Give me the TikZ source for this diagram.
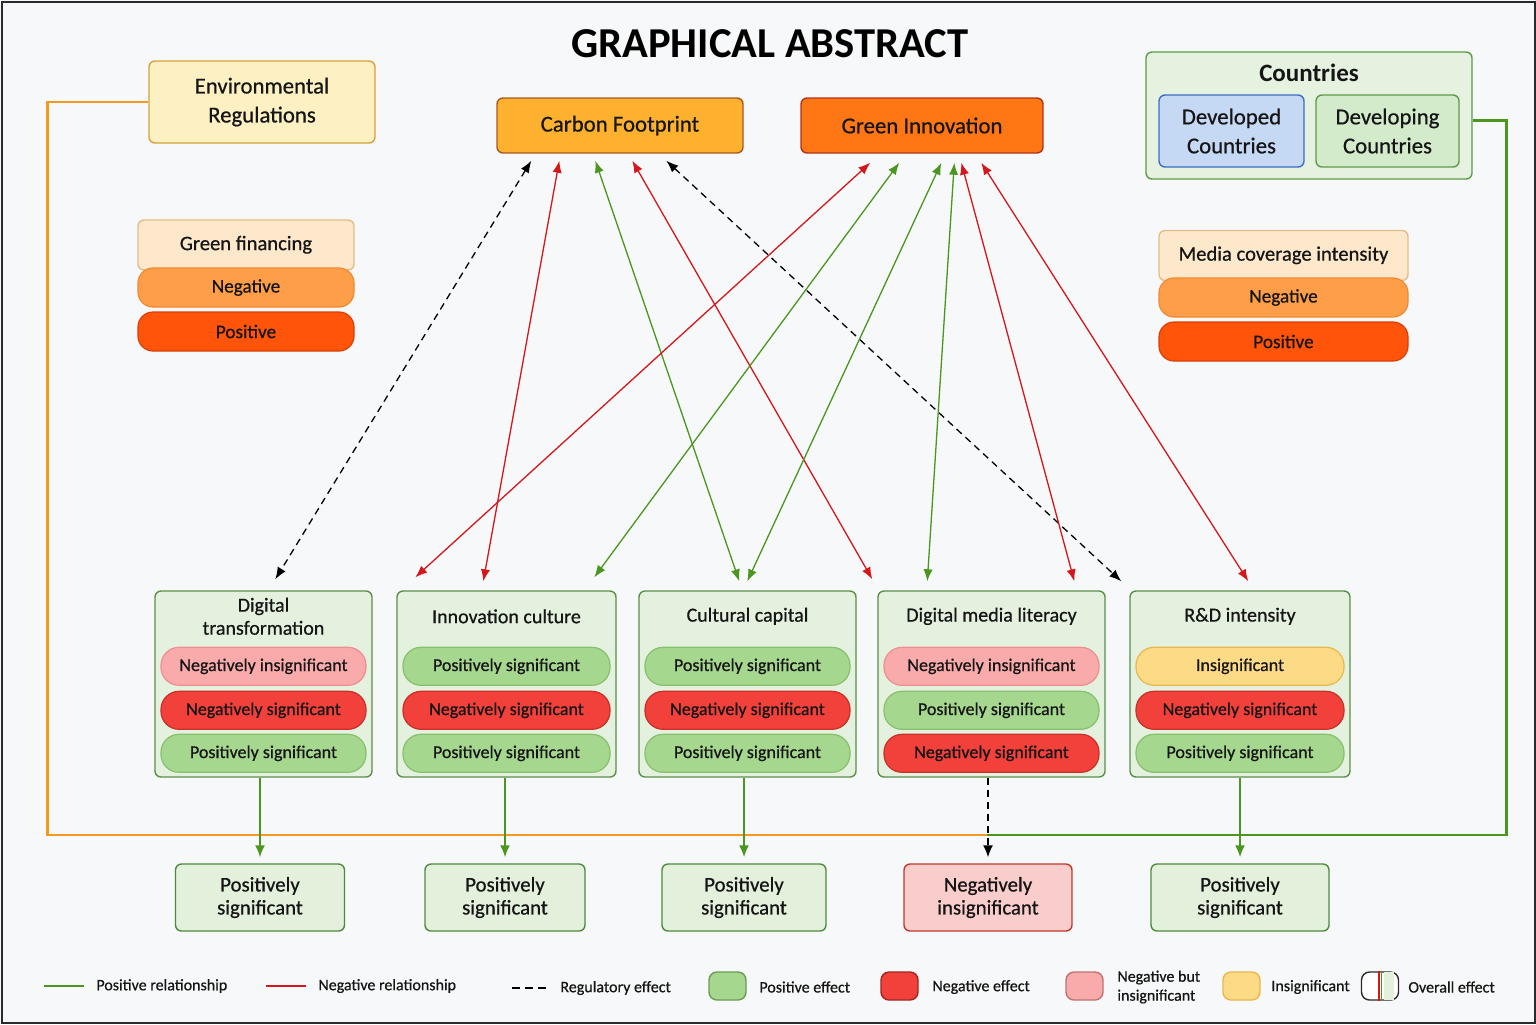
\documentclass[tikz,border=0pt]{standalone}
\usepackage{fontspec}
\setmainfont{Carlito}
\newfontfamily\gafont{Carlito}[FakeBold=0.6]
\usetikzlibrary{arrows.meta, backgrounds, calc, positioning}
\definecolor{gaink}{HTML}{151515}
\definecolor{gapaper}{HTML}{F7F8F9}
\definecolor{gaframe}{HTML}{2A2A2A}
\definecolor{gagreen}{HTML}{4A961E}
\definecolor{gared}{HTML}{D3171B}
\definecolor{gaorange}{HTML}{F39A1E}
\definecolor{regfill}{HTML}{FDF1C4}
\definecolor{regdraw}{HTML}{D9A23A}
\definecolor{cffill}{HTML}{FDB12F}
\definecolor{cfdraw}{HTML}{A85A1E}
\definecolor{gifill}{HTML}{FF7614}
\definecolor{gidraw}{HTML}{B5321A}
\definecolor{ctryfill}{HTML}{E6F2E0}
\definecolor{ctrydraw}{HTML}{5C9A48}
\definecolor{devfill}{HTML}{C5D8F4}
\definecolor{devdraw}{HTML}{3B6FC4}
\definecolor{dvgfill}{HTML}{D4EBCB}
\definecolor{modfill}{HTML}{FDE8CB}
\definecolor{moddraw}{HTML}{E2BE86}
\definecolor{modneg}{HTML}{FF9E48}
\definecolor{modnegdraw}{HTML}{F08A30}
\definecolor{modpos}{HTML}{FF5409}
\definecolor{modposdraw}{HTML}{D84008}
\definecolor{factfill}{HTML}{E4F1DF}
\definecolor{factdraw}{HTML}{5A8F48}
\definecolor{pillgreen}{HTML}{A6D78E}
\definecolor{pillgreendraw}{HTML}{86C06C}
\definecolor{pillred}{HTML}{F2403A}
\definecolor{pillreddraw}{HTML}{C8302A}
\definecolor{pillpink}{HTML}{F9AAAA}
\definecolor{pillpinkdraw}{HTML}{EE8E8E}
\definecolor{pillyellow}{HTML}{FDDA86}
\definecolor{pillyellowdraw}{HTML}{E9B84C}
\definecolor{resfill}{HTML}{E3F0DC}
\definecolor{resdraw}{HTML}{4E8A3E}
\definecolor{resnegfill}{HTML}{F9CDCB}
\definecolor{resnegdraw}{HTML}{C0392B}
\tikzset{
  gabox/.style={
    rounded corners=3pt,
    line width=0.7pt,
    align=center,
    inner sep=2pt,
    text=gaink,
    font=\gafont\fontsize{11.4}{14.5}\selectfont
  },
  outcomebox/.style={gabox, minimum height=27.5pt},
  factorbox/.style={gabox, draw=factdraw, fill=factfill,
    minimum height=93pt},
  factortitle/.style={align=center, text=gaink,
    font=\gafont\fontsize{10}{11.5}\selectfont},
  pill/.style={rounded corners=9pt, line width=0.6pt, minimum height=19pt,
    inner sep=1pt, text=gaink, font=\gafont\fontsize{9}{10}\selectfont},
  pillpos/.style={pill, draw=pillgreendraw, fill=pillgreen},
  pillneg/.style={pill, draw=pillreddraw, fill=pillred},
  pillnegins/.style={pill, draw=pillpinkdraw, fill=pillpink},
  pillins/.style={pill, draw=pillyellowdraw, fill=pillyellow},
  modhead/.style={gabox, draw=moddraw, fill=modfill, minimum height=25pt,
    font=\gafont\fontsize{10.3}{11}\selectfont},
  modneg/.style={pill, rounded corners=7.5pt, draw=modnegdraw, fill=modneg,
    minimum height=19.5pt, font=\gafont\fontsize{9.6}{10}\selectfont},
  modpos/.style={modneg, draw=modposdraw, fill=modpos},
  resultbox/.style={gabox, minimum height=33.5pt,
    font=\gafont\fontsize{10.4}{11.5}\selectfont},
  respos/.style={resultbox, draw=resdraw, fill=resfill},
  resneg/.style={resultbox, draw=resnegdraw, fill=resnegfill},
  posarrow/.style={{Latex[length=6pt,width=4.6pt]}-{Latex[length=6pt,width=4.6pt]},
    line width=0.65pt, draw=gagreen},
  negarrow/.style={{Latex[length=6pt,width=4.6pt]}-{Latex[length=6pt,width=4.6pt]},
    line width=0.65pt, draw=gared},
  regarrow/.style={{Latex[length=6pt,width=4.6pt]}-{Latex[length=6pt,width=4.6pt]},
    line width=0.65pt, draw=black, dash pattern=on 3.5pt off 2.5pt},
  downarrow/.style={-{Latex[length=6pt,width=5pt]}, line width=1pt,
    draw=gagreen, shorten >=3pt},
  routeline/.style={line width=1.4pt},
  legendtext/.style={anchor=west, align=left, text=gaink, inner sep=0pt,
    font=\gafont\fontsize{8}{9.5}\selectfont},
  swatch/.style={rounded corners=4pt, line width=0.7pt,
    minimum width=18.5pt, minimum height=14pt, inner sep=0pt}
}
\begin{document}
\begin{tikzpicture}[x=0.5pt,y=-0.5pt]
\useasboundingbox (0,0) rectangle (1536,1024);
\fill[gapaper] (0,0) rectangle (1536,1024);
\draw[gaframe, line width=1pt] (1.5,1.5) rectangle (1534.5,1022.5);

\node[text=black, font=\fontsize{21.3}{24}\selectfont\bfseries] (title)
  at (770,44) {GRAPHICAL ABSTRACT};

% top row
\node[gabox, draw=regdraw, fill=regfill, minimum width=113pt,
  minimum height=41pt] (envreg) at (262,102) {Environmental\\Regulations};
\node[outcomebox, draw=cfdraw, fill=cffill, minimum width=123pt]
  (carbon) at (620,125.5) {Carbon Footprint};
\node[outcomebox, draw=gidraw, fill=gifill, minimum width=121pt]
  (greeninno) at (922,125.5) {Green Innovation};

\node[gabox, draw=ctrydraw, fill=ctryfill, minimum width=163pt,
  minimum height=63.5pt] (countries) at (1309,115.5) {};
\node[text=gaink, font=\fontsize{12.5}{14}\selectfont\bfseries]
  (ctrytitle) at (1309,73) {Countries};
\node[gabox, draw=devdraw, fill=devfill, minimum width=72.5pt,
  minimum height=36pt] (developed) at (1231.5,131) {Developed\\Countries};
\node[gabox, draw=ctrydraw, fill=dvgfill, minimum width=71.5pt,
  minimum height=36pt] (developing) at (1387.5,131) {Developing\\Countries};

% moderators
\node[modhead, minimum width=108pt] (finhead) at (246,245)
  {\raisebox{2pt}{Green financing}};
\node[modneg, minimum width=108pt] (finneg) at (246,287.5) {Negative};
\node[modpos, minimum width=108pt] (finpos) at (246,331.5) {Positive};

\node[modhead, minimum width=124.5pt] (medhead) at (1283.5,255.5)
  {\raisebox{2pt}{Media coverage intensity}};
\node[modneg, minimum width=124.5pt] (medneg) at (1283.5,297.5) {Negative};
\node[modpos, minimum width=124.5pt] (medpos) at (1283.5,341.5) {Positive};

% factor boxes
\node[factorbox, minimum width=108.5pt] (digtrans) at (263.5,684) {};
\node[factorbox, minimum width=109.5pt] (innocult) at (506.5,684) {};
\node[factorbox, minimum width=108.5pt] (cultcap) at (747.5,684) {};
\node[factorbox, minimum width=113.5pt] (medialit) at (991.5,684) {};
\node[factorbox, minimum width=110pt] (rdint) at (1240,684) {};

\node[factortitle] (dtname) at ([shift={(0,26)}]digtrans.north)
  {Digital\\transformation};
\node[factortitle] (icname) at ([shift={(0,26)}]innocult.north)
  {Innovation culture};
\node[factortitle] (ccname) at ([shift={(0,26)}]cultcap.north)
  {Cultural capital};
\node[factortitle] (dmname) at ([shift={(0,26)}]medialit.north)
  {Digital media literacy};
\node[factortitle] (rdname) at ([shift={(0,26)}]rdint.north)
  {R\&D intensity};

\node[pillnegins, minimum width=102.5pt] (dt1) at ([shift={(0,76)}]digtrans.north)
  {Negatively insignificant};
\node[pillneg, minimum width=102.5pt] (dt2) at ([shift={(0,120)}]digtrans.north)
  {Negatively significant};
\node[pillpos, minimum width=102.5pt] (dt3) at ([shift={(0,163)}]digtrans.north)
  {Positively significant};

\node[pillpos, minimum width=103.5pt] (ic1) at ([shift={(0,76)}]innocult.north)
  {Positively significant};
\node[pillneg, minimum width=103.5pt] (ic2) at ([shift={(0,120)}]innocult.north)
  {Negatively significant};
\node[pillpos, minimum width=103.5pt] (ic3) at ([shift={(0,163)}]innocult.north)
  {Positively significant};

\node[pillpos, minimum width=102.5pt] (cc1) at ([shift={(0,76)}]cultcap.north)
  {Positively significant};
\node[pillneg, minimum width=102.5pt] (cc2) at ([shift={(0,120)}]cultcap.north)
  {Negatively significant};
\node[pillpos, minimum width=102.5pt] (cc3) at ([shift={(0,163)}]cultcap.north)
  {Positively significant};

\node[pillnegins, minimum width=107.5pt] (dm1) at ([shift={(0,76)}]medialit.north)
  {Negatively insignificant};
\node[pillpos, minimum width=107.5pt] (dm2) at ([shift={(0,120)}]medialit.north)
  {Positively significant};
\node[pillneg, minimum width=107.5pt] (dm3) at ([shift={(0,163)}]medialit.north)
  {Negatively significant};

\node[pillins, minimum width=104pt] (rd1) at ([shift={(0,76)}]rdint.north)
  {Insignificant};
\node[pillneg, minimum width=104pt] (rd2) at ([shift={(0,120)}]rdint.north)
  {Negatively significant};
\node[pillpos, minimum width=104pt] (rd3) at ([shift={(0,163)}]rdint.north)
  {Positively significant};

% overall results
\node[respos, minimum width=84.5pt] (dtres) at (260,897.5)
  {Positively\\significant};
\node[respos, minimum width=80pt] (icres) at (505,897.5)
  {Positively\\significant};
\node[respos, minimum width=82pt] (ccres) at (744,897.5)
  {Positively\\significant};
\node[resneg, minimum width=84pt] (dmres) at (988,897.5)
  {Negatively\\insignificant};
\node[respos, minimum width=89pt] (rdres) at (1240,897.5)
  {Positively\\significant};

% moderating routes
\coordinate (join) at (987,835);
\draw[routeline, draw=gaorange] (envreg.west) -- ++(-101,0) |- (join);
\draw[routeline, draw=gagreen] ([shift={(0,5)}]countries.east) -- ++(34,0) |- (join);

% links to carbon footprint
\draw[regarrow] ([shift={(35,7)}]carbon.south west) -- ([shift={(121,-11)}]digtrans.north west);
\draw[negarrow] ([shift={(63,7)}]carbon.south west) -- ([shift={(87,-9)}]innocult.north west);
\draw[posarrow] ([shift={(99,7)}]carbon.south west) -- ([shift={(101,-9)}]cultcap.north west);
\draw[negarrow] ([shift={(136,7)}]carbon.south west) -- ([shift={(-5,-11)}]medialit.north west);
\draw[regarrow] ([shift={(170,7)}]carbon.south west) -- ([shift={(-8,-9)}]rdint.north west);

% links to green innovation
\draw[negarrow] ([shift={(70,9)}]greeninno.south west) -- ([shift={(19,-13)}]innocult.north west);
\draw[posarrow] ([shift={(99,9)}]greeninno.south west) -- ([shift={(198,-13)}]innocult.north west);
\draw[posarrow] ([shift={(141,9)}]greeninno.south west) -- ([shift={(109,-9)}]cultcap.north west);
\draw[posarrow] ([shift={(154,9)}]greeninno.south west) -- ([shift={(50,-9)}]medialit.north west);
\draw[negarrow] ([shift={(161,9)}]greeninno.south west) -- ([shift={(197,-9)}]medialit.north west);
\draw[negarrow] ([shift={(181,9)}]greeninno.south west) -- ([shift={(119,-9)}]rdint.north west);

% down to results
\draw[downarrow] (dtres.north |- digtrans.south) -- (dtres.north);
\draw[downarrow] (icres.north |- innocult.south) -- (icres.north);
\draw[downarrow] (ccres.north |- cultcap.south) -- (ccres.north);
\draw[downarrow, draw=black, line width=0.8pt, dash pattern=on 3.5pt off 2.5pt]
  (dmres.north |- medialit.south) -- (dmres.north);
\draw[downarrow] (rdres.north |- rdint.south) -- (rdres.north);

% legend
\node[legendtext] (lgpos) at (96,986) {Positive relationship};
\node[legendtext] (lgneg) at (318,986) {Negative relationship};
\node[legendtext] (lgreg) at (560,988) {Regulatory effect};
\draw[draw=gagreen, line width=1pt] ([xshift=-6pt]lgpos.west) -- ++(-20pt,0);
\draw[draw=gared, line width=1pt] ([xshift=-6pt]lgneg.west) -- ++(-20pt,0);
\draw[draw=black, line width=1pt, dash pattern=on 4pt off 2.5pt]
  ([xshift=-7pt]lgreg.west) -- ++(-19pt,0);

\node[swatch, draw=pillgreendraw!80!black, fill=pillgreen] (swpos) at (727.5,986) {};
\node[legendtext] (lgposeff) at (759,987) {Positive effect};
\node[swatch, draw=pillreddraw!80!black, fill=pillred] (swneg) at (899.5,986) {};
\node[legendtext] (lgnegeff) at (932,987) {Negative effect};
\node[swatch, draw=pillpinkdraw!80!black, fill=pillpink] (swnegins) at (1084.5,986) {};
\node[legendtext] (lgnegins) at (1117,987) {Negative but\\insignificant};
\node[swatch, draw=pillyellowdraw, fill=pillyellow] (swins) at (1241.5,986) {};
\node[legendtext] (lgins) at (1271,987) {Insignificant};
\node[swatch, draw=gaframe, fill=white] (swall) at (1380,986) {};
\fill[resfill] ([shift={(4,1)}]swall.north) rectangle ([shift={(14,-1)}]swall.south);
\draw[gared, line width=0.8pt] ([xshift=-0.6pt]swall.north) -- ([xshift=-0.6pt]swall.south);
\draw[gagreen, line width=0.8pt] ([xshift=0.8pt]swall.north) -- ([xshift=0.8pt]swall.south);
\node[legendtext] (lgall) at (1408,987) {Overall effect};
\end{tikzpicture}
\end{document}
